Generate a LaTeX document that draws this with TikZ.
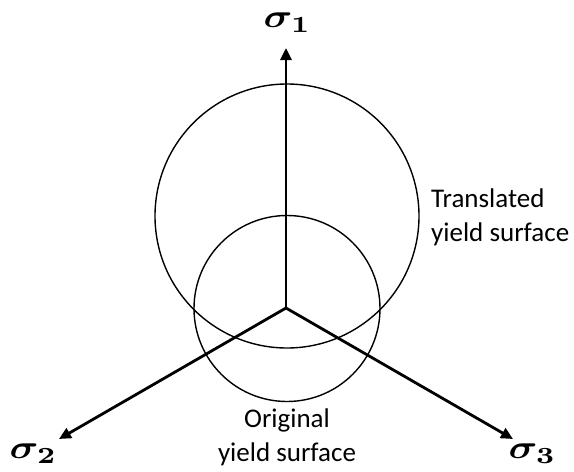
\documentclass[tikz,border=0pt]{standalone}
\usepackage{fontspec}
\setmainfont{Carlito}
\usepackage{bm}
\usepackage{graphicx}
\usetikzlibrary{arrows.meta}
\newcommand{\bigsig}[1]{\scalebox{4}[3.3]{$\bm{\sigma_{#1}}$}}
\begin{document}
\begin{tikzpicture}[x=1pt,y=-1pt,
  axis/.style={line width=2.8pt,-{Triangle[length=12pt,width=11pt]}},
  surf/.style={line width=1.4pt},
  lbl/.style={font=\fontsize{27}{32}\selectfont,inner sep=0pt},
  sig/.style={inner sep=0pt}]
\useasboundingbox (0,0) rectangle (574,472);
\coordinate (O) at (286,308);
\coordinate (T1) at (286,48);
\coordinate (T2) at (59,439);
\coordinate (T3) at (513,439);
\coordinate (C1) at (287,216);
\coordinate (C0) at (287,308.5);
\draw[surf] (C1) circle[radius=132];
\draw[surf] (C0) circle[radius=93];
\draw[axis] (O) -- (T1);
\draw[axis] (O) -- (T2);
\draw[axis] (O) -- (T3);
\node[sig] (s1) at (287.5,23) {\bigsig{1}};
\node[sig] (s2) at (33.5,454) {\bigsig{2}};
\node[sig] (s3) at (532.5,454) {\bigsig{3}};
\node[lbl,anchor=base west] (t1) at (431,207) {Translated};
\node[lbl,anchor=base west] (t2) at (431,241) {yield surface};
\node[lbl,anchor=base] (o1) at (287,427) {Original};
\node[lbl,anchor=base] (o2) at (287,461) {yield surface};
\end{tikzpicture}
\end{document}
